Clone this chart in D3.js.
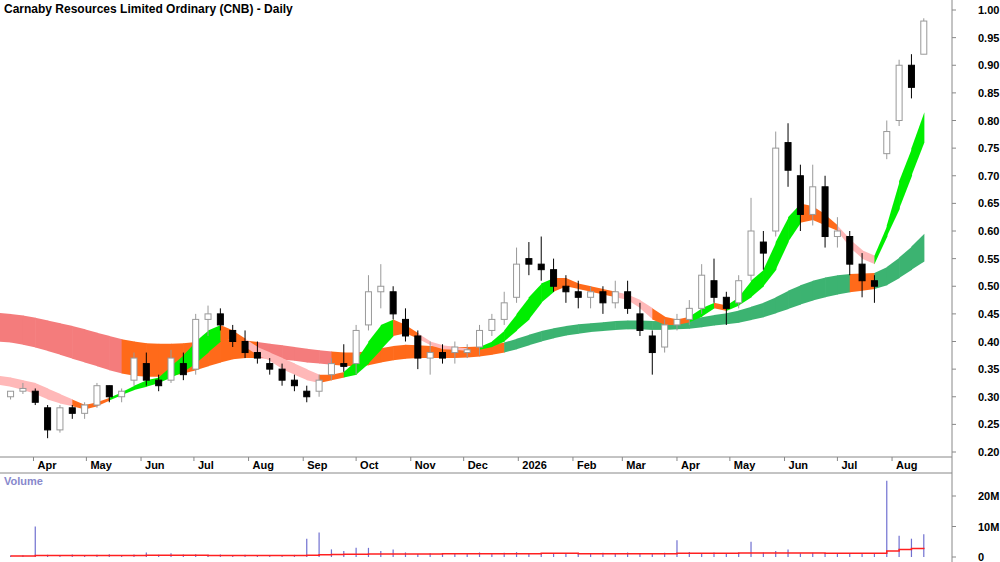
<!DOCTYPE html>
<html><head><meta charset="utf-8">
<script src="https://cdn.jsdelivr.net/npm/d3@7"></script>
<style>body{margin:0;background:#fff}text{font-family:"Liberation Sans",Arial,sans-serif}</style>
</head><body><svg id="c" width="1000" height="562"></svg>
<script>
// weekly candles, week starting Monday
const firstWeek = new Date(2025, 2, 19);
const opens  = [.30,.31,.31,.28,.24,.28,.27,.285,.32,.30,.33,.36,.33,.33,.36,.35,.44,.45,.42,.40,.38,.36,.35,.33,.31,.31,.34,.36,.36,.43,.49,.49,.44,.41,.37,.38,.38,.38,.39,.42,.44,.48,.55,.54,.53,.50,.49,.48,.49,.47,.49,.45,.41,.39,.43,.44,.46,.51,.48,.47,.52,.58,.60,.76,.70,.63,.68,.59,.59,.54,.51,.74,.80,.90,.92];
const highs  = [.31,.325,.315,.285,.285,.285,.29,.325,.32,.315,.38,.38,.34,.385,.38,.45,.465,.46,.43,.42,.40,.37,.36,.34,.32,.34,.37,.395,.43,.52,.54,.50,.46,.42,.40,.395,.40,.395,.43,.45,.49,.57,.58,.59,.55,.52,.51,.50,.50,.51,.51,.47,.42,.44,.45,.475,.54,.55,.49,.52,.66,.60,.78,.795,.72,.72,.70,.625,.60,.56,.52,.80,.91,.92,.985];
const lows   = [.295,.305,.285,.225,.235,.26,.26,.28,.29,.29,.32,.32,.31,.325,.33,.34,.41,.42,.39,.37,.36,.34,.32,.31,.29,.30,.33,.345,.34,.42,.46,.44,.40,.35,.34,.36,.36,.37,.375,.41,.43,.47,.52,.51,.49,.47,.46,.46,.45,.46,.45,.41,.34,.38,.42,.43,.45,.47,.43,.46,.51,.53,.59,.68,.60,.61,.57,.57,.52,.48,.47,.73,.79,.84,.92];
const closes = [.31,.315,.29,.24,.28,.27,.285,.32,.30,.31,.37,.33,.32,.37,.34,.44,.45,.43,.40,.38,.37,.35,.33,.32,.30,.33,.36,.355,.42,.49,.50,.45,.41,.37,.38,.37,.39,.385,.42,.44,.47,.54,.54,.53,.50,.49,.48,.49,.47,.49,.46,.42,.38,.43,.44,.46,.52,.48,.46,.51,.60,.56,.75,.71,.63,.68,.59,.60,.54,.51,.50,.78,.90,.86,.98];
const volumes = [.5,.6,10,.7,.6,.8,.6,.7,.9,.6,.8,1.5,.7,1.2,.8,.9,.7,.8,.6,.7,.6,.5,.6,.7,6,8,2.5,2,3,3,2,2.5,1.5,1,1.2,1,1.3,1,1.5,1.2,1.4,1.6,1,1.2,1,1.3,1.1,1,1.4,1.2,1.5,1.3,1.1,1.4,5.5,1.6,1.2,1.5,1.3,1.4,5,1.5,2,2.5,1.2,1.4,1.3,1,1.2,1.1,1,25,7,6,7.5];
const volumeMA = [.3,.3,.5,.5,.5,.5,.5,.5,.5,.5,.5,.6,.6,.6,.6,.6,.5,.5,.5,.5,.5,.5,.5,.5,.6,.7,.8,.9,.9,1,1,1,1,1,1,1.1,1.1,1.1,1.1,1.1,1.1,1.1,1.1,1.2,1.2,1.2,1.1,1.1,1.1,1.1,1.1,1.1,1.1,1.1,1.2,1.2,1.2,1.2,1.2,1.3,1.3,1.3,1.3,1.3,1.3,1.3,1.2,1.2,1.2,1.2,1.2,2,2.5,2.8,3];

// moving average ribbons, first point is one week before the first candle
const shortTop = [.338,.335,.33,.325,.315,.305,.295,.285,.29,.298,.308,.32,.33,.335,.355,.375,.40,.42,.43,.42,.405,.39,.38,.37,.36,.35,.34,.34,.345,.365,.40,.43,.44,.43,.415,.40,.393,.39,.388,.39,.40,.42,.45,.48,.505,.515,.515,.505,.50,.495,.49,.485,.475,.46,.445,.44,.445,.46,.47,.465,.48,.51,.53,.58,.625,.65,.645,.63,.61,.585,.565,.555,.61,.69,.75,.815];
const shortBot = [.322,.318,.312,.305,.295,.288,.283,.277,.283,.293,.303,.312,.318,.325,.335,.345,.36,.38,.40,.405,.39,.375,.365,.35,.34,.33,.325,.33,.335,.34,.36,.385,.41,.415,.405,.393,.386,.385,.383,.385,.39,.40,.42,.44,.47,.49,.50,.495,.49,.485,.48,.475,.46,.44,.43,.43,.435,.445,.46,.455,.465,.48,.50,.53,.58,.615,.62,.61,.60,.57,.55,.54,.59,.64,.70,.76];
const shortCol = ("ppppppp" + "ooo" + "ggggggggg" + "oo" + "pppppp" + "oo" + "gggg" + "oo" + "pppp" + "o" +
  "gggggg" + "ooooo" + "ppp" + "ooo" + "gg" + "o" + "gggggg" + "ooo" + "ppp" + "gggg").split("");
const longTop = [.452,.450,.447,.443,.438,.433,.428,.422,.416,.410,.404,.400,.397,.396,.396,.397,.399,.401,.403,.404,.402,.399,.396,.393,.390,.387,.384,.382,.380,.380,.383,.388,.392,.394,.393,.392,.391,.390,.390,.391,.394,.398,.405,.412,.419,.424,.428,.431,.433,.435,.437,.438,.438,.437,.437,.438,.440,.444,.448,.451,.456,.463,.470,.480,.492,.502,.510,.516,.520,.522,.523,.524,.535,.552,.572,.595];
const longBot = [.400,.398,.394,.389,.383,.376,.369,.362,.355,.348,.342,.338,.336,.336,.338,.342,.348,.355,.362,.368,.370,.370,.369,.367,.365,.362,.360,.358,.356,.355,.357,.362,.366,.369,.370,.370,.370,.370,.371,.373,.376,.380,.386,.393,.400,.406,.411,.414,.417,.419,.421,.422,.422,.421,.421,.422,.423,.426,.429,.431,.434,.439,.444,.451,.459,.467,.474,.480,.485,.489,.492,.495,.502,.515,.530,.545];
const longCol = ("rrrrrrrrrrr" + "ooooooooooo" + "rrrrrr" + "oooooooooooooo" +
  "dddddddddddddddddddddddddddd" + "oo" + "dddd").split("");

const priceTicks = [0.20,0.25,0.30,0.35,0.40,0.45,0.50,0.55,0.60,0.65,0.70,0.75,0.80,0.85,0.90,0.95,1.00];
const volTicks = [0, 10, 20];
const monthTicks = [[2025,3,"Apr"],[2025,4,"May"],[2025,5,"Jun"],[2025,6,"Jul"],[2025,7,"Aug"],[2025,8,"Sep"],[2025,9,"Oct"],[2025,10,"Nov"],[2025,11,"Dec"],[2026,0,"2026"],[2026,1,"Feb"],[2026,2,"Mar"],[2026,3,"Apr"],[2026,4,"May"],[2026,5,"Jun"],[2026,6,"Jul"],[2026,7,"Aug"]];

const colours = {p:"#ffb8b8", o:"#ff6a1a", g:"#00ee00", r:"#f47c7c", d:"#3cb371"};
const axisX = 952;

const svg = d3.select("#c");
const x = d3.scaleTime().domain([new Date(2025,2,13), new Date(2026,8,4)]).range([0, axisX]);
const y = d3.scaleLinear().domain([0.20, 1.00]).range([452, 10]);
const yv = d3.scaleLinear().domain([0, 20]).range([557, 496]);
const weekDate = i => d3.timeDay.offset(firstWeek, 7 * i);

// ribbons
function ribbon(top, bot, col) {
  const g = svg.append("g");
  for (let i = 0; i < top.length - 1; i++) {
    const x0 = x(weekDate(i - 1)), x1 = x(weekDate(i)) + 0.6;
    const pts = [[x0, y(top[i])], [x1, y(top[i+1])], [x1, y(bot[i+1])], [x0, y(bot[i])]];
    g.append("path").attr("d", "M" + pts.join("L") + "Z").attr("fill", colours[col[i+1]]);
  }
}
ribbon(longTop, longBot, longCol);
ribbon(shortTop, shortBot, shortCol);

// candles
const cw = 6;
const candles = svg.append("g").selectAll("g").data(closes).join("g");
candles.append("line")
  .attr("x1", (d, i) => x(weekDate(i))).attr("x2", (d, i) => x(weekDate(i)))
  .attr("y1", (d, i) => y(highs[i])).attr("y2", (d, i) => y(lows[i]))
  .attr("stroke", (d, i) => d >= opens[i] ? "#999" : "#000");
candles.append("rect")
  .attr("x", (d, i) => x(weekDate(i)) - cw / 2).attr("width", cw)
  .attr("y", (d, i) => y(Math.max(d, opens[i])))
  .attr("height", (d, i) => Math.max(1, Math.abs(y(d) - y(opens[i]))))
  .attr("fill", (d, i) => d >= opens[i] ? "#fff" : "#000")
  .attr("stroke", (d, i) => d >= opens[i] ? "#999" : "#000");

// frame lines
svg.append("line").attr("x1", 0).attr("x2", axisX).attr("y1", 457).attr("y2", 457).attr("stroke", "#888");
svg.append("line").attr("x1", 0).attr("x2", axisX).attr("y1", 473).attr("y2", 473).attr("stroke", "#888");
svg.append("line").attr("x1", axisX).attr("x2", axisX).attr("y1", 0).attr("y2", 562).attr("stroke", "#888");

// price axis
const pa = svg.append("g");
priceTicks.forEach(p => {
  pa.append("line").attr("x1", axisX).attr("x2", axisX + 4).attr("y1", y(p)).attr("y2", y(p)).attr("stroke", "#888");
  pa.append("text").attr("x", 978).attr("y", y(p) + 4).attr("font-size", 11).attr("font-weight", "bold")
    .attr("text-anchor", "start").text(p.toFixed(2));
});

// month axis
monthTicks.forEach(([yr, m, lbl]) => {
  const xx = x(new Date(yr, m, 1));
  svg.append("line").attr("x1", xx).attr("x2", xx).attr("y1", 457).attr("y2", 461).attr("stroke", "#888");
  svg.append("text").attr("x", xx + 4).attr("y", 469).attr("font-size", 11).attr("font-weight", "bold").text(lbl);
});

// volume
svg.append("text").attr("x", 4).attr("y", 485).attr("font-size", 11).attr("font-weight", "bold").attr("fill", "#8888cc").text("Volume");
svg.append("g").selectAll("line").data(volumes).join("line")
  .attr("x1", (d, i) => x(weekDate(i))).attr("x2", (d, i) => x(weekDate(i)))
  .attr("y1", yv(0)).attr("y2", d => yv(d)).attr("stroke", "#7070d0").attr("stroke-width", 1.2);
svg.append("path").datum(volumeMA)
  .attr("d", d3.line().x((d, i) => x(weekDate(i))).y(d => yv(d)).curve(d3.curveStepAfter))
  .attr("fill", "none").attr("stroke", "#ff2020").attr("stroke-width", 1.5);
volTicks.forEach(v => {
  svg.append("line").attr("x1", axisX).attr("x2", axisX + 4).attr("y1", yv(v)).attr("y2", yv(v)).attr("stroke", "#888");
  svg.append("text").attr("x", 978).attr("y", yv(v) + 4).attr("font-size", 11).attr("font-weight", "bold").text(v ? v + "M" : "0");
});

// title
svg.append("text").attr("x", 4).attr("y", 13).attr("font-size", 12).attr("font-weight", "bold")
  .text("Carnaby Resources Limited Ordinary (CNB) - Daily");
</script></body></html>
